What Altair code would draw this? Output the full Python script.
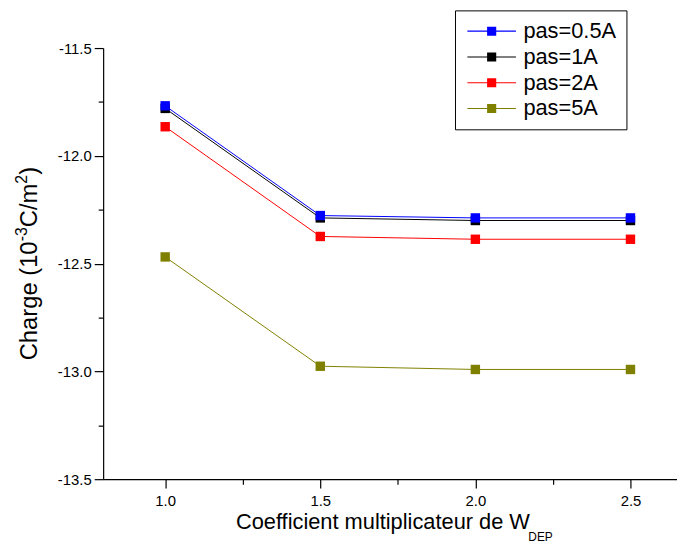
import altair as alt
import pandas as pd

x_vals = [1.0, 1.5, 2.0, 2.5]
series = ["pas=0.5A", "pas=1A", "pas=2A", "pas=5A"]
colors = ["#0000FF", "#000000", "#FF0000", "#808000"]
y_05 = [-11.768, -12.277, -12.288, -12.288]
y_1 = [-11.780, -12.288, -12.300, -12.300]
y_2 = [-11.865, -12.374, -12.387, -12.387]
y_5 = [-12.469, -12.976, -12.991, -12.991]

x_ticks = [1.0, 1.25, 1.5, 1.75, 2.0, 2.25, 2.5]
y_ticks = [-13.5, -13.25, -13.0, -12.75, -12.5, -12.25, -12.0, -11.75, -11.5]

x_title = "Coefficient multiplicateur de W"
x_title_sub = "DEP"
# y title pieces: (text, is_superscript)
y_title_parts = [("Charge (10", False), ("-3", True), ("C/m", False), ("2", True), (")", False)]

rows = []
for name, ys_, z in zip(series, [y_05, y_1, y_2, y_5], [3, 2, 1, 0]):
    for x, y in zip(x_vals, ys_):
        rows.append({"coef": x, "charge": y, "serie": name, "z": z})
df = pd.DataFrame(rows).sort_values("z").reset_index(drop=True)

FONT = "Liberation Sans"
W, H = 579, 435
TFS = 22
YFS, SFS = 24, 16

xs = alt.Scale(domain=[0.8, 2.65], nice=False, zero=False)
ys = alt.Scale(domain=[-13.5, -11.5], nice=False, zero=False)

lab_expr = "datum.value % 0.5 == 0 ? replace(format(datum.value, '.1f'), '\u2212', '-') : ''"
tick_sz = {"condition": {"test": "datum.value % 0.5 == 0", "value": 9}, "value": 5}

x_axis = alt.Axis(
    values=x_ticks, labelExpr=lab_expr, tickSize=tick_sz,
    grid=False, domainColor="black", tickColor="black", domainWidth=1.2, tickWidth=1.2,
    labelFont=FONT, labelFontSize=15, labelColor="black", labelPadding=6,
    title=None,
)
y_axis = alt.Axis(
    values=y_ticks, labelExpr=lab_expr, tickSize=tick_sz,
    grid=False, domainColor="black", tickColor="black", domainWidth=1.2, tickWidth=1.2,
    labelFont=FONT, labelFontSize=15, labelColor="black", labelPadding=3,
    title=None,
)

sym = "M-2.45,-0.06H2.45V0.06H-2.45Z M-0.46,-0.46H0.46V0.46H-0.46Z"
color_scale = alt.Scale(domain=series, range=colors)

base = alt.Chart(df)

line_layers = []
for name, c in zip(series[::-1], colors[::-1]):
    line_layers.append(
        base.transform_filter(alt.datum.serie == name).mark_line(
            strokeWidth=1, color=c
        ).encode(
            x=alt.X("coef:Q", scale=xs, axis=x_axis),
            y=alt.Y("charge:Q", scale=ys, axis=y_axis),
        )
    )

points = base.mark_square(size=90, opacity=1, strokeWidth=0).encode(
    x=alt.X("coef:Q", scale=xs),
    y=alt.Y("charge:Q", scale=ys),
    fill=alt.Fill(
        "serie:N", scale=color_scale,
        legend=alt.Legend(
            title=None, orient="none", legendX=355, legendY=-38,
            strokeColor="black", fillColor="white", padding=10,
            symbolType=sym, symbolSize=400, symbolStrokeWidth=0, symbolOpacity=1,
            symbolOffset=16,
            labelFont=FONT, labelFontSize=22, labelColor="black", labelOffset=21,
            rowPadding=4, labelLimit=300,
        ),
    ),
    order=alt.Order("z:Q"),
)

title_main = alt.Chart(pd.DataFrame({"t": [x_title]})).mark_text(
    font=FONT, fontSize=TFS, align="left", baseline="alphabetic", color="black"
).encode(text="t:N", x=alt.value(134), y=alt.value(H + 50))

title_sub = alt.Chart(pd.DataFrame({"t": [x_title_sub]})).mark_text(
    font=FONT, fontSize=12, align="left", baseline="alphabetic", color="black"
).encode(text="t:N", x=alt.value(429), y=alt.value(H + 62))

# rotated y title built from pieces (Arial/Liberation Sans advance widths)
adv = {"C": 722, "h": 556, "a": 556, "r": 333, "g": 556, "e": 556, " ": 278,
       "(": 333, "1": 556, "0": 556, "-": 333, "3": 556, "/": 278, "m": 833,
       "2": 556, ")": 333}
def width(s, fs):
    return sum(adv[ch] for ch in s) * fs / 1000.0

total = sum(width(t, SFS if sup else YFS) for t, sup in y_title_parts)
ypos = H / 2 + total / 2
y_title_layers = []
for t, sup in y_title_parts:
    fs = SFS if sup else YFS
    y_title_layers.append(
        alt.Chart(pd.DataFrame({"t": [t]})).mark_text(
            font=FONT, fontSize=fs, align="left", baseline="alphabetic",
            angle=270, color="black"
        ).encode(text="t:N", x=alt.value(-77 if sup else -67), y=alt.value(ypos))
    )
    ypos -= width(t, fs)

chart = alt.layer(*line_layers, points, title_main, title_sub, *y_title_layers).properties(
    width=W, height=H,
    autosize=alt.AutoSizeParams(type="none"),
    padding={"left": 96, "top": 38, "right": 0, "bottom": 65},
).configure_view(stroke=None)

chart.save("out.html", embed_options={"renderer": "svg", "actions": False})
